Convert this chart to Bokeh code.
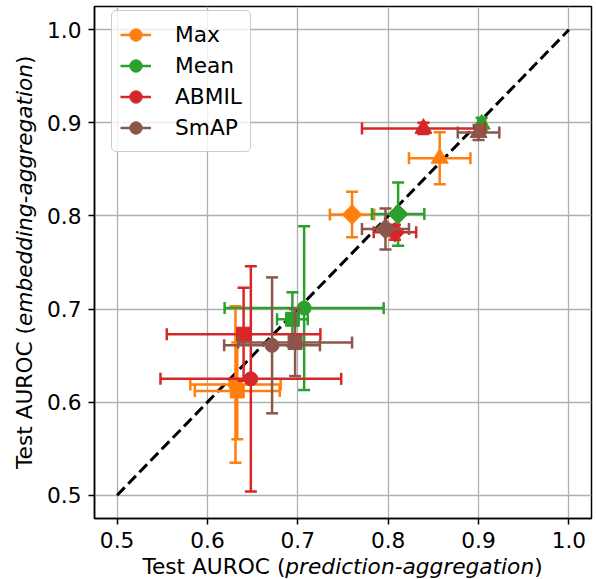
import math
from bokeh.plotting import figure
from bokeh.models import Range1d, FixedTicker, Legend, LegendItem, ColumnDataSource, Div, Spacer
from bokeh.layouts import row, column
from bokeh.embed import file_html
from bokeh.resources import INLINE

# ---------------- data ----------------
methods = ["Max", "Mean", "ABMIL", "SmAP"]
colors = ["#ff7f0e", "#2ca02c", "#d62728", "#8c564b"]
dataset_markers = ["circle", "square", "diamond", "triangle"]

max_x = [0.631, 0.633, 0.760, 0.857]
max_xerr = [0.050, 0.047, 0.0245, 0.034]
max_y = [0.619, 0.612, 0.8015, 0.862]
max_yerr = [0.084, 0.052, 0.0245, 0.028]

mean_x = [0.707, 0.694, 0.811, 0.9035]
mean_xerr = [0.088, 0.017, 0.029, 0.004]
mean_y = [0.701, 0.689, 0.802, 0.8986]
mean_yerr = [0.088, 0.029, 0.034, 0.007]

abmil_x = [0.648, 0.640, 0.8075, 0.839]
abmil_xerr = [0.100, 0.085, 0.0235, 0.068]
abmil_y = [0.625, 0.673, 0.7825, 0.894]
abmil_yerr = [0.121, 0.050, 0.008, 0.006]

smap_x = [0.6715, 0.697, 0.797, 0.900]
smap_xerr = [0.053, 0.063, 0.026, 0.023]
smap_y = [0.661, 0.664, 0.786, 0.8896]
smap_yerr = [0.073, 0.036, 0.022, 0.008]

series = [
    (max_x, max_xerr, max_y, max_yerr),
    (mean_x, mean_xerr, mean_y, mean_yerr),
    (abmil_x, abmil_xerr, abmil_y, abmil_yerr),
    (smap_x, smap_xerr, smap_y, smap_yerr),
]

ticks = [0.5, 0.6, 0.7, 0.8, 0.9, 1.0]
tick_labels = ["0.5", "0.6", "0.7", "0.8", "0.9", "1.0"]
diag = [0.5, 1.0]

x_label_html = "Test AUROC (<i>prediction-aggregation</i>)"
y_label_html = "Test AUROC (<i>embedding-aggregation</i>)"

# ---------------- style ----------------
FONT = "DejaVu Sans"
FS = "21.7px"
LO, HI = 0.475, 1.025

p = figure(width=557, height=554, x_range=Range1d(LO, HI), y_range=Range1d(LO, HI),
           output_backend="svg", toolbar_location=None,
           min_border_left=56, min_border_right=4,
           min_border_top=6, min_border_bottom=36)
p.outline_line_color = "black"
p.outline_line_width = 1.5
p.background_fill_color = "white"
p.border_fill_color = "white"

for ax in (p.xaxis[0], p.yaxis[0]):
    ax.ticker = FixedTicker(ticks=ticks)
    ax.major_label_overrides = {t: l for t, l in zip(ticks, tick_labels)}
    ax.minor_tick_line_color = None
    ax.major_tick_out = 6
    ax.major_tick_in = 0
    ax.major_tick_line_width = 1.5
    ax.major_tick_line_color = "black"
    ax.axis_line_color = "black"
    ax.axis_line_width = 1.5
    ax.major_label_text_font = FONT
    ax.major_label_text_font_size = FS
    ax.major_label_text_color = "black"
    ax.major_label_standoff = 7

for g in (p.xgrid[0], p.ygrid[0]):
    g.ticker = FixedTicker(ticks=ticks)
    g.grid_line_color = "#b0b0b0"
    g.grid_line_width = 1.3

# diagonal reference line
p.line(diag, diag, line_color="black", line_width=3, line_dash="11 5")

legend_items = []
for name, col, (xs, xe, ys, ye) in zip(methods, colors, series):
    n = len(xs)
    hsrc = ColumnDataSource(dict(x0=[xs[i] - xe[i] for i in range(n)],
                                 x1=[xs[i] + xe[i] for i in range(n)], y=ys))
    vsrc = ColumnDataSource(dict(y0=[ys[i] - ye[i] for i in range(n)],
                                 y1=[ys[i] + ye[i] for i in range(n)], x=xs))
    hr = p.segment(x0="x0", x1="x1", y0="y", y1="y", source=hsrc,
                   line_color=col, line_width=2.5)
    p.segment(x0="x", x1="x", y0="y0", y1="y1", source=vsrc,
              line_color=col, line_width=2.5)
    capx = ColumnDataSource(dict(x=[xs[i] - xe[i] for i in range(n)] + [xs[i] + xe[i] for i in range(n)],
                                 y=list(ys) + list(ys)))
    capy = ColumnDataSource(dict(x=list(xs) + list(xs),
                                 y=[ys[i] - ye[i] for i in range(n)] + [ys[i] + ye[i] for i in range(n)]))
    p.scatter(x="x", y="y", source=capx, marker="dash", size=12, angle=math.pi / 2,
              line_color=col, line_width=2.5)
    p.scatter(x="x", y="y", source=capy, marker="dash", size=12, angle=0,
              line_color=col, line_width=2.5)
    mk, ang, sz = [], [], []
    for m in dataset_markers:
        if m == "diamond":
            mk.append("square"); ang.append(math.pi / 4); sz.append(14)
        elif m == "triangle":
            mk.append("triangle"); ang.append(0.0); sz.append(17)
        else:
            mk.append(m); ang.append(0.0); sz.append(14)
    msrc = ColumnDataSource(dict(x=xs, y=ys, marker=mk, angle=ang, size=sz))
    mr = p.scatter(x="x", y="y", source=msrc, marker="marker", angle="angle", size="size",
                   fill_color=col, line_color=col, line_width=1)
    legend_items.append(LegendItem(label=name, renderers=[hr, mr], index=0))

legend = Legend(items=legend_items, location=(17, 366.5),
                padding=8, spacing=0, margin=0,
                glyph_width=31, glyph_height=31, label_height=31,
                label_standoff=24,
                label_text_font=FONT, label_text_font_size=FS, label_text_color="black",
                border_line_color="#cccccc", border_line_width=1.3, border_line_alpha=1.0,
                background_fill_color="white", background_fill_alpha=0.8)
if "border_radius" in Legend.properties():
    legend.border_radius = 5
p.add_layout(legend)

# ---------------- axis labels (HTML, with italic part) ----------------
common = {"font-family": FONT, "font-size": FS, "color": "black",
          "white-space": "nowrap", "text-align": "center"}
xlab = Div(text=x_label_html, width=497, height=25, margin=0,
           styles=dict(common, **{"line-height": "25px"}))
ylab = Div(text=y_label_html, width=26, height=512, margin=0,
           styles=dict(common, **{"line-height": "26px", "writing-mode": "vertical-rl",
                                  "transform": "rotate(180deg)"}))

top_row = row(Spacer(width=12, height=10, margin=0),
              column(Spacer(width=26, height=6, margin=0), ylab, margin=0, spacing=0),
              p, margin=0, spacing=0)
bottom_row = row(Spacer(width=94, height=25, margin=0), xlab, margin=0, spacing=0)
root = column(top_row, bottom_row, margin=0, spacing=0)

open("out.html", "w").write(file_html(root, INLINE))
